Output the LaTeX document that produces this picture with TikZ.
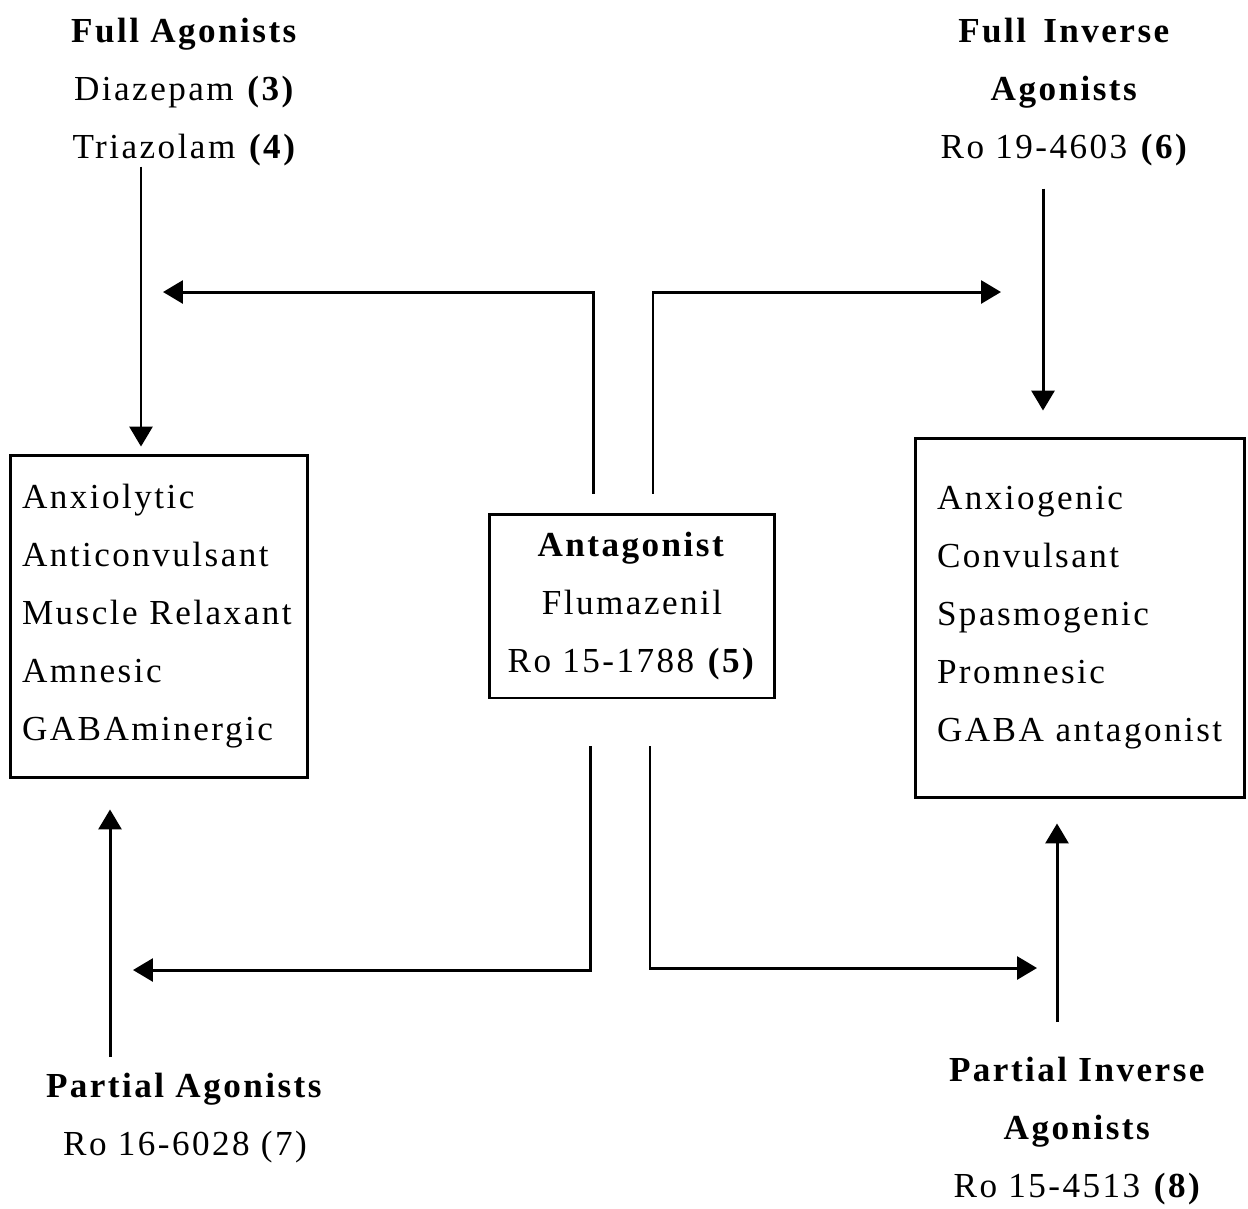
\documentclass[tikz,border=0pt]{standalone}
\usepackage{fontspec}
\setmainfont{Liberation Serif}[LetterSpace=7]
\usetikzlibrary{arrows.meta,positioning}

\begin{document}
\begin{tikzpicture}[
    x=0.02cm, y=-0.02cm,
    every node/.style={font=\fontsize{20}{33}\selectfont},
    label/.style={align=center, anchor=north, inner sep=0pt},
    effbox/.style={draw, line width=1.7pt, align=left, inner ysep=0pt},
    midbox/.style={draw, line width=1.7pt, align=center, minimum width=5.72cm, minimum height=3.68cm},
    flow/.style={-{Triangle[length=0.4cm, width=0.46cm]}, line width=1.7pt}
]
\path[use as bounding box, fill=white] (0,0) rectangle (1248,1208);
% effect boxes
\node[effbox, inner xsep=0.24cm, text width=5.48cm, minimum height=6.46cm] (leftbox) at (159,616.5)
    {Anxiolytic\\Anticonvulsant\\Muscle~Relaxant\\Amnesic\\GABAminergic};
\node[effbox, inner xsep=0.44cm, text width=5.72cm, minimum height=7.2cm] (rightbox) at (1080,618)
    {Anxiogenic\\Convulsant\\Spasmogenic\\Promnesic\\GABA~antagonist};
\node[midbox] (antag) at (632,606) {\textbf{Antagonist}\\Flumazenil\\Ro 15-1788 \textbf{(5)}};
% ligand classes
\node[label] (fullag) at (185,18) {\textbf{Full Agonists}\\Diazepam \textbf{(3)}\\Triazolam \textbf{(4)}};
\node[label] (fullinv) at (1065,18) {\textbf{Full\, Inverse}\\\textbf{Agonists}\\Ro 19-4603 \textbf{(6)}};
\node[label] (partag) at (185,1073) {\textbf{Partial Agonists}\\Ro 16-6028 (7)};
\node[label] (partinv) at (1078,1057) {\textbf{Partial Inverse}\\\textbf{Agonists}\\Ro 15-4513 \textbf{(8)}};
% free ends of the antagonist arrows
\coordinate (tlend) at (163,292);
\coordinate (trend) at (1001,292);
\coordinate (blend) at (133,970);
\coordinate (brend) at (1037,968);
\draw[flow, shorten >=0.14cm] ([xshift=-0.36cm]leftbox.north |- fullag.south) -- ([xshift=-0.36cm]leftbox.north);
\draw[flow, shorten <=0.44cm, shorten >=0.52cm] ([xshift=-0.74cm]rightbox.north |- fullinv.south) -- ([xshift=-0.74cm]rightbox.north);
\draw[flow, shorten <=0.32cm, shorten >=0.6cm] ([xshift=-0.98cm]leftbox.south |- partag.north) -- ([xshift=-0.98cm]leftbox.south);
\draw[flow, shorten <=0.7cm, shorten >=0.48cm] ([xshift=-0.46cm]rightbox.south |- partinv.north) -- ([xshift=-0.46cm]rightbox.south);
\draw[flow] ([xshift=-0.78cm, yshift=0.38cm]antag.north) |- (tlend);
\draw[flow] ([xshift=0.42cm, yshift=0.38cm]antag.north) |- (trend);
\draw[flow] ([xshift=-0.84cm, yshift=-0.94cm]antag.south) |- (blend);
\draw[flow] ([xshift=0.36cm, yshift=-0.94cm]antag.south) |- (brend);
\end{tikzpicture}
\end{document}
